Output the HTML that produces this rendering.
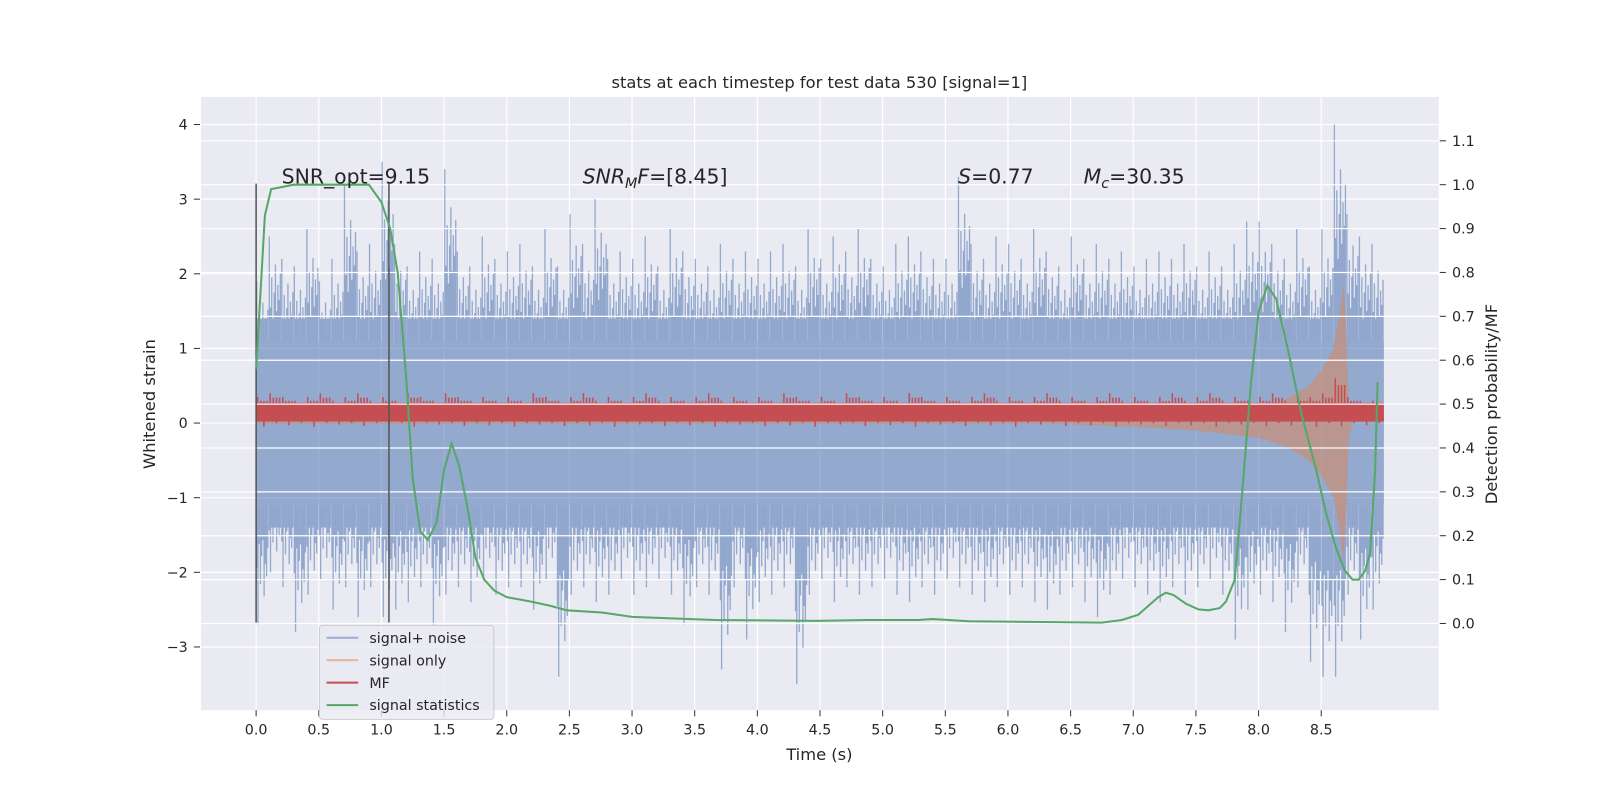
<!DOCTYPE html>
<html><head><meta charset="utf-8"><style>
html,body{margin:0;padding:0;background:#fff;overflow:hidden;width:1600px;height:800px;}
svg{display:block;}
svg text{font-family:"DejaVu Sans","Liberation Sans",sans-serif;fill:#262626;}
</style></head><body>
<svg id="chart" width="1600" height="800" viewBox="0 0 1568 784" xmlns="http://www.w3.org/2000/svg">
<rect x="197" y="95" width="1213" height="601" fill="#eaeaf2"/>
<g id="grid"></g><g id="marks"></g><g id="grid2"></g><g id="lines"></g><g id="axes"></g>
<text x="803" y="86" font-size="16" text-anchor="middle">stats at each timestep for test data 530 [signal=1]</text>
<text x="803" y="745" font-size="16" text-anchor="middle">Time (s)</text>
<text transform="translate(152,396) rotate(-90)" font-size="16" text-anchor="middle">Whitened strain</text>
<text transform="translate(1467,396) rotate(-90)" font-size="16" text-anchor="middle">Detection probability/MF</text>
<text x="276" y="180" font-size="20">SNR_opt=9.15</text>
<text x="571" y="180" font-size="20"><tspan font-style="italic">SNR</tspan><tspan font-style="italic" font-size="14" dy="4">M</tspan><tspan font-style="italic" dy="-4">F</tspan>=[8.45]</text>
<text x="939" y="180" font-size="20"><tspan font-style="italic">S</tspan>=0.77</text>
<text x="1062" y="180" font-size="20"><tspan font-style="italic">M</tspan><tspan font-style="italic" font-size="14" dy="4">c</tspan><tspan dy="-4">=30.35</tspan></text>
<g>
<rect x="313" y="613" width="171" height="92" rx="3" fill="#eaeaf2" fill-opacity="0.8" stroke="#cccccc"/>
<line x1="320" y1="625" x2="351" y2="625" stroke="#4c72b0" stroke-opacity="0.5" stroke-width="2"/>
<text x="362" y="630" font-size="14">signal+ noise</text>
<line x1="320" y1="647" x2="351" y2="647" stroke="#dd8452" stroke-opacity="0.5" stroke-width="2"/>
<text x="362" y="652" font-size="14">signal only</text>
<line x1="320" y1="669" x2="351" y2="669" stroke="#c44e52" stroke-width="2"/>
<text x="362" y="674" font-size="14">MF</text>
<line x1="320" y1="691" x2="351" y2="691" stroke="#55a868" stroke-width="2"/>
<text x="362" y="696" font-size="14">signal statistics</text>
</g>
</svg>
<script>
const xTicks=[0,0.5,1,1.5,2,2.5,3,3.5,4,4.5,5,5.5,6,6.5,7,7.5,8,8.5];
const yTicks=[-3,-2,-1,0,1,2,3,4];
const y2Ticks=[0,0.1,0.2,0.3,0.4,0.5,0.6,0.7,0.8,0.9,1.0,1.1];
const noiseHi=[1.9,2.5,2.2,2.1,2.6,1.9,2.2,3.2,2.3,2.4,3.5,2.4,2.1,2.3,2.2,3.4,2.3,2.1,2.5,2.2,2.3,2.4,2.1,2.6,2.1,2.8,2.4,3.0,2.2,2.3,2.2,2.5,2.1,2.6,2.3,2.2,2.1,2.4,2.2,2.3,2.2,2.3,2.4,2.1,2.6,2.2,2.5,2.3,2.6,2.2,2.1,2.4,2.5,2.3,2.2,2.2,3.3,2.4,2.2,2.5,2.4,2.2,2.6,2.3,2.1,2.5,2.2,2.4,2.2,2.3,2.1,2.2,2.3,2.2,2.4,2.1,2.3,2.1,2.4,2.7,2.7,2.4,2.2,2.6,2.1,2.6,4.0,2.8,2.5,2.4];
const noiseLo=[-2.7,-2.0,-2.2,-2.8,-2.3,-2.1,-2.5,-2.2,-2.6,-2.2,-2.6,-2.5,-2.4,-2.2,-2.7,-2.3,-2.2,-2.4,-2.1,-2.3,-2.2,-2.2,-2.5,-2.1,-3.4,-2.3,-2.2,-2.4,-2.3,-2.1,-2.3,-2.2,-2.1,-2.3,-2.7,-2.2,-2.3,-3.3,-2.2,-2.9,-2.4,-2.3,-2.2,-3.5,-2.3,-2.1,-2.4,-2.2,-2.3,-2.2,-2.1,-2.3,-2.4,-2.2,-2.3,-2.1,-2.2,-2.3,-2.4,-2.2,-2.3,-2.2,-2.4,-2.5,-2.3,-2.2,-2.4,-2.6,-2.3,-2.1,-2.2,-2.3,-2.4,-2.2,-2.3,-2.2,-2.1,-2.3,-2.9,-2.5,-2.3,-2.4,-2.8,-2.2,-3.2,-3.4,-3.4,-2.3,-2.9,-2.5];
const noiseCore=[-1.1,1.1];
const mfHi=[0.35,0.4,0.35,0.3,0.35,0.4,0.3,0.35,0.4,0.3,0.35,0.3,0.4,0.35,0.3,0.4,0.35,0.3,0.35,0.3,0.35,0.3,0.4,0.35,0.3,0.35,0.4,0.3,0.35,0.3,0.35,0.4,0.3,0.35,0.3,0.35,0.4,0.3,0.35,0.3,0.35,0.3,0.4,0.35,0.3,0.35,0.3,0.4,0.35,0.3,0.35,0.3,0.4,0.35,0.3,0.35,0.3,0.35,0.4,0.3,0.35,0.3,0.35,0.4,0.3,0.35,0.3,0.35,0.4,0.3,0.35,0.3,0.35,0.4,0.3,0.35,0.4,0.3,0.35,0.3,0.35,0.4,0.3,0.35,0.35,0.4,0.6,0.35,0.3,0.3];
const mfLo=[-0.05,0,-0.03,0,-0.05,0,-0.02,0,-0.04,0,-0.03,0,-0.05,0,-0.02,0,-0.04,0,-0.03,0,-0.05,0,-0.02,0,-0.04,0,-0.03,0,-0.05,0,-0.02,0,-0.04,0,-0.03,0,-0.05,0,-0.02,0,-0.04,0,-0.03,0,-0.05,0,-0.02,0,-0.04,0,-0.03,0,-0.05,0,-0.02,0,-0.04,0,-0.03,0,-0.05,0,-0.02,0,-0.04,0,-0.03,0,-0.05,0,-0.02,0,-0.04,0,-0.03,0,-0.05,0,-0.02,0,-0.04,0,-0.03,0,-0.05,0,-0.04,0,-0.03,0];
const sigT=[6.5,7.0,7.5,8.0,8.2,8.4,8.5,8.6,8.65,8.68,8.7,8.72,8.75];
const sigEnv=[0.02,0.05,0.1,0.2,0.3,0.5,0.7,1.0,1.5,1.85,1.2,0.2,0.02];
const probT=[0,0.07,0.12,0.3,0.6,0.9,1.0,1.07,1.13,1.2,1.25,1.31,1.37,1.44,1.5,1.56,1.62,1.69,1.75,1.82,1.9,2.0,2.19,2.35,2.48,2.76,3.0,3.66,4.47,4.88,5.28,5.4,5.69,6.75,6.91,7.04,7.12,7.2,7.26,7.32,7.42,7.52,7.6,7.69,7.74,7.81,7.87,7.94,8.0,8.07,8.14,8.23,8.34,8.46,8.54,8.62,8.69,8.75,8.8,8.85,8.89,8.93,8.95];
const probV=[0.58,0.93,0.99,1.0,1.0,1.0,0.96,0.9,0.8,0.55,0.33,0.21,0.19,0.23,0.35,0.41,0.36,0.26,0.15,0.1,0.075,0.06,0.05,0.04,0.03,0.025,0.015,0.008,0.006,0.008,0.008,0.01,0.005,0.002,0.008,0.02,0.04,0.06,0.07,0.065,0.045,0.032,0.03,0.035,0.05,0.1,0.3,0.55,0.71,0.77,0.74,0.63,0.48,0.35,0.25,0.17,0.12,0.1,0.1,0.12,0.16,0.35,0.55];
const vlines=[0,1.06];

const X=t=>251+t*122.8, Y=v=>414.6-v*73.14, Y2=p=>611-p*430;
const NS="http://www.w3.org/2000/svg";
function mk(tag,parent,attrs){const e=document.createElementNS(NS,tag);for(const k in attrs)e.setAttribute(k,attrs[k]);document.getElementById(parent).appendChild(e);return e;}
xTicks.forEach(t=>{const l=mk('line','grid',{x1:X(t),x2:X(t),y1:95,y2:696,stroke:'#fff','stroke-width':1.2});


mk('line','axes',{x1:X(t),x2:X(t),y1:696,y2:702,stroke:'#333'});
const tx=mk('text','axes',{x:X(t),y:720,'font-size':14,'text-anchor':'middle'});tx.textContent=t.toFixed(1);

});
yTicks.forEach(v=>{const l=mk('line','grid',{x1:197,x2:1410,y1:Y(v),y2:Y(v),stroke:'#fff','stroke-width':1.2});


mk('line','axes',{x1:190,x2:196,y1:Y(v),y2:Y(v),stroke:'#333'});
const tx=mk('text','axes',{x:184,y:Y(v)+5,'font-size':14,'text-anchor':'end'});tx.textContent=(v<0?'\u2212'+(-v):v);

});
y2Ticks.forEach(p=>{const l=mk('line','grid2',{x1:197,x2:1410,y1:Y2(p),y2:Y2(p),stroke:'#fff','stroke-width':1.2});


mk('line','axes',{x1:1411,x2:1417,y1:Y2(p),y2:Y2(p),stroke:'#333'});
const tx=mk('text','axes',{x:1423,y:Y2(p)+5,'font-size':14});tx.textContent=p.toFixed(1);

});
const core=mk('rect','marks',{x:X(0),y:Y(noiseCore[1]),width:X(9)-X(0),height:Y(noiseCore[0])-Y(noiseCore[1]),fill:'#4c72b0','fill-opacity':0.55});


const pu=[1,0.62,0.78,0.55,0.7,0.85,0.6,0.74,0.66,0.8];
const pd=[0.72,1,0.6,0.8,0.66,0.58,0.86,0.7,0.76,0.62];
noiseHi.forEach((h,i)=>{const lo=noiseLo[i];
 for(let k=0;k<10;k++){
  const xx=X(i*0.1+0.005+k*0.0098);
  const top=Math.max(noiseCore[1]+0.3,h*pu[k]);
  const bot=Math.min(noiseCore[0]-0.3,lo*pd[k]);
  const a=mk('line','marks',{x1:xx,x2:xx,y1:Y(top),y2:Y(noiseCore[1]),stroke:'#4c72b0','stroke-opacity':0.55,'stroke-width':1.3});
  
  
  const b=mk('line','marks',{x1:xx,x2:xx,y1:Y(noiseCore[0]),y2:Y(bot),stroke:'#4c72b0','stroke-opacity':0.55,'stroke-width':1.3});
  
  }});
let d='M'+sigT.map((t,i)=>X(t)+','+Y(sigEnv[i])).join('L')+'L'+sigT.slice().reverse().map((t,i)=>X(t)+','+Y(-sigEnv[sigEnv.length-1-i])).join('L')+'Z';
const sp=mk('path','marks',{d:d,fill:'#dd8452','fill-opacity':0.5});


const sb=mk('line','marks',{x1:X(0),x2:X(6.5),y1:Y(0),y2:Y(0),stroke:'#dd8452','stroke-opacity':0.5,'stroke-width':1.5});


mfHi.forEach((h,i)=>{for(let k=0;k<4;k++){const xx=X(i*0.1+0.012+k*0.025);
 const l=mk('line','marks',{x1:xx,x2:xx,y1:Y(k==0?h:h*0.85),y2:Y(k==2?mfLo[i]:0.02),stroke:'#c44e52','stroke-width':1.5});
 
 }});
const mfb=mk('rect','marks',{x:X(0),y:Y(0.27),width:X(9)-X(0),height:Y(0.02)-Y(0.27),fill:'#c44e52'});


vlines.forEach(t=>{const l=mk('line','lines',{x1:X(t),x2:X(t),y1:180,y2:610,stroke:'#555','stroke-width':1.5});

});
const pl=mk('polyline','lines',{points:probT.map((t,i)=>X(t)+','+Y2(probV[i])).join(' '),fill:'none',stroke:'#55a868','stroke-width':2});


</script>
</body></html>
